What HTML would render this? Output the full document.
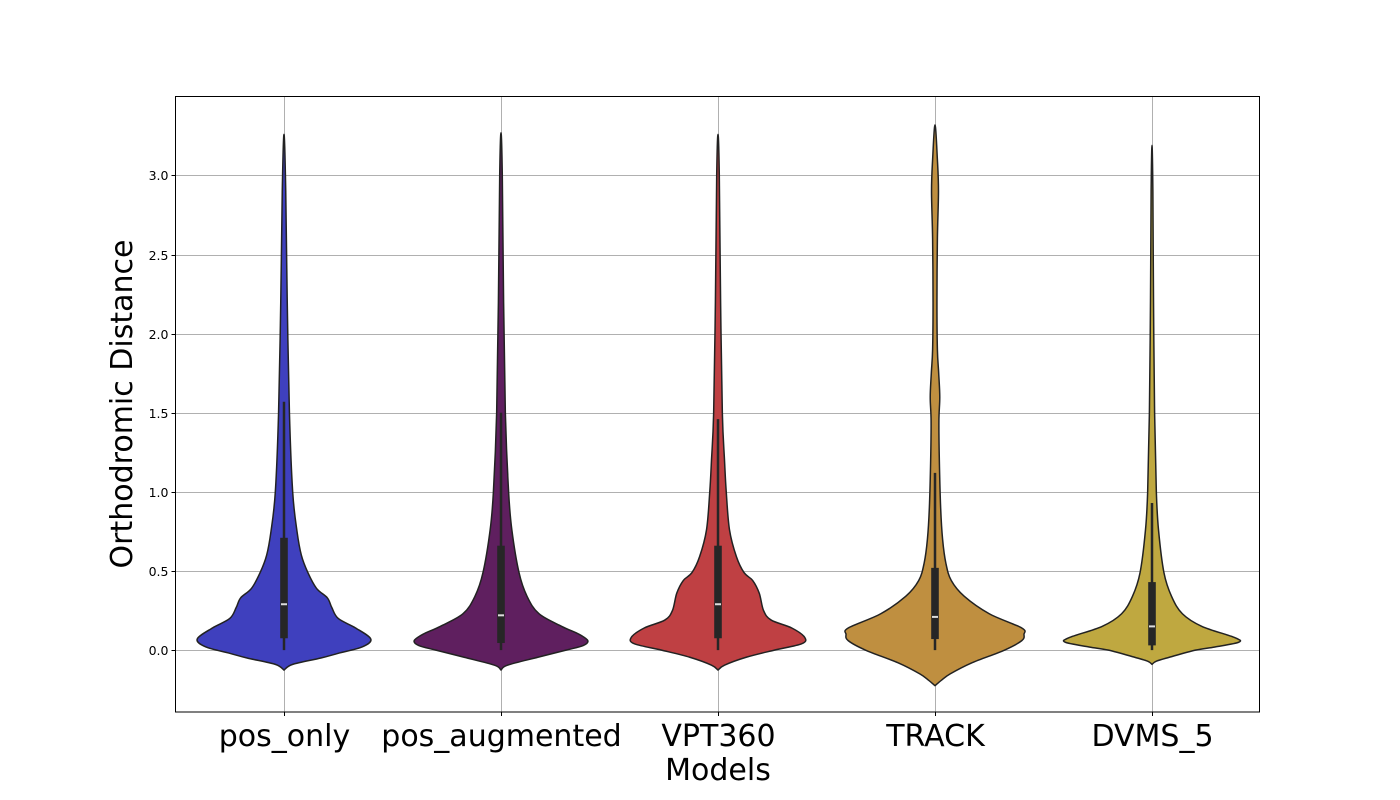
<!DOCTYPE html>
<html><head><meta charset="utf-8"><style>
html,body{margin:0;padding:0;background:#fff;}
svg{display:block;font-family:"DejaVu Sans","Liberation Sans",sans-serif;}
</style></head><body>
<svg id="chart" width="1400" height="800" viewBox="0 0 1400 800">
<rect x="0" y="0" width="1400" height="800" fill="#fff"/>
<g id="grid"></g>
<g id="violins"></g>
<rect x="175.5" y="96.5" width="1084" height="615.5" fill="none" stroke="#000" stroke-width="1"/>
<g id="yticks"></g>
<g id="xticks"></g>
<text x="132" y="404" font-size="30" text-anchor="middle" transform="rotate(-90 132 404)">Orthodromic Distance</text>
<text x="718" y="780" font-size="30" text-anchor="middle">Models</text>
</svg>
<script>
const categories = ["pos_only","pos_augmented","VPT360","TRACK","DVMS_5"];
const colors = ["#3f40be","#5f1f5f","#bf4043","#bf8f40","#bfa840"];
const yTicks = [0.0,0.5,1.0,1.5,2.0,2.5,3.0];
const yTickLabels = ["0.0","0.5","1.0","1.5","2.0","2.5","3.0"];
// violin profiles: values and half-widths (fraction of category spacing)
const profVals0 = [-0.126,-0.09,-0.05,-0.02,0.02,0.07,0.14,0.20,0.27,0.33,0.39,0.49,0.6,0.75,1.0,1.5,2.2,2.9,3.26];
const profW0    = [0,0.04,0.17,0.25,0.36,0.40,0.33,0.25,0.22,0.20,0.15,0.11,0.08,0.06,0.04,0.025,0.015,0.008,0];
const profVals1 = [-0.126,-0.095,-0.045,0.0,0.03,0.06,0.10,0.15,0.23,0.34,0.49,0.76,1.0,1.5,2.2,3.0,3.27];
const profW1    = [0,0.03,0.17,0.30,0.38,0.40,0.36,0.28,0.175,0.12,0.083,0.05,0.035,0.02,0.012,0.006,0];
const profVals2 = [-0.126,-0.095,-0.045,0.0,0.04,0.08,0.14,0.19,0.25,0.36,0.44,0.49,0.59,0.76,1.0,1.2,1.5,2.2,3.0,3.26];
const profW2    = [0,0.03,0.13,0.26,0.385,0.40,0.34,0.245,0.21,0.19,0.16,0.12,0.085,0.053,0.038,0.03,0.02,0.012,0.006,0];
const profVals3 = [-0.225,-0.19,-0.15,-0.08,0.0,0.06,0.10,0.14,0.23,0.34,0.44,0.55,0.7,0.9,1.2,1.45,1.6,1.75,1.9,2.2,2.6,2.9,3.1,3.32];
const profW3    = [0,0.03,0.07,0.17,0.32,0.40,0.41,0.40,0.25,0.135,0.075,0.05,0.035,0.026,0.02,0.018,0.022,0.017,0.011,0.009,0.011,0.016,0.011,0];
const profVals4 = [-0.09,-0.07,-0.045,0.0,0.02,0.05,0.08,0.15,0.23,0.34,0.49,0.76,1.0,1.5,2.2,2.9,3.19];
const profW4    = [0,0.02,0.08,0.2,0.29,0.40,0.38,0.23,0.14,0.09,0.055,0.03,0.02,0.012,0.007,0.004,0];
const whiskerLow  = [0,0,0,0,0];
const q1Vals      = [0.075,0.045,0.075,0.07,0.03];
const medianVals  = [0.29,0.22,0.29,0.21,0.15];
const q3Vals      = [0.71,0.66,0.66,0.52,0.43];
const whiskerHigh = [1.57,1.5,1.46,1.12,0.93];

const NS="http://www.w3.org/2000/svg";
const L=175.5,R=1259.5,T=96.5,B=712;
const yMin=-0.391,yMax=3.499;
const ys=v=>B-(v-yMin)/(yMax-yMin)*(B-T);
const step=217, x0=284;
const xs=i=>x0+i*step;
const ws=w=>w*step;
function mk(tag,attrs,parent){const e=document.createElementNS(NS,tag);for(const k in attrs)e.setAttribute(k,attrs[k]);parent.appendChild(e);return e;}
const grid=document.getElementById('grid'),yt=document.getElementById('yticks'),xt=document.getElementById('xticks'),vg=document.getElementById('violins');
yTicks.forEach((v,i)=>{
  const y=Math.round(ys(v))+0.5;
  const g=mk('line',{x1:L,x2:R,y1:y,y2:y,stroke:'#b0b0b0','stroke-width':1},grid);
  
  
  const t=mk('line',{x1:L-4,x2:L,y1:y,y2:y,stroke:'#000','stroke-width':1},yt);
  
  
  const tx=mk('text',{x:L-7,y:y+4.5,'font-size':12.5,'text-anchor':'end'},yt);
  tx.textContent=yTickLabels[i];
  
  
});
categories.forEach((c,i)=>{
  const x=Math.round(xs(i))+0.5;
  const g=mk('line',{x1:x,x2:x,y1:T,y2:B,stroke:'#b0b0b0','stroke-width':1},grid);
  
  
  const t=mk('line',{x1:x,x2:x,y1:B,y2:B+4,stroke:'#000','stroke-width':1},xt);
  
  
  const tx=mk('text',{x:x,y:746,'font-size':30,'text-anchor':'middle'},xt);
  tx.textContent=c;
  
  
});
const profs=[[profVals0,profW0],[profVals1,profW1],[profVals2,profW2],[profVals3,profW3],[profVals4,profW4]];
function smooth(pts){
  let d='M'+pts[0][0].toFixed(2)+','+pts[0][1].toFixed(2);
  for(let i=0;i<pts.length-1;i++){
    const p0=pts[Math.max(0,i-1)],p1=pts[i],p2=pts[i+1],p3=pts[Math.min(pts.length-1,i+2)];
    const c1=[p1[0]+(p2[0]-p0[0])/6,p1[1]+(p2[1]-p0[1])/6];
    const c2=[p2[0]-(p3[0]-p1[0])/6,p2[1]-(p3[1]-p1[1])/6];
    d+='C'+c1[0].toFixed(2)+','+c1[1].toFixed(2)+' '+c2[0].toFixed(2)+','+c2[1].toFixed(2)+' '+p2[0].toFixed(2)+','+p2[1].toFixed(2);
  }
  return d;
}
profs.forEach((p,i)=>{
  const cx=xs(i),vals=p[0],w=p[1];
  const right=vals.map((v,k)=>[cx+ws(w[k]),ys(v)]);
  const left=vals.map((v,k)=>[cx-ws(w[k]),ys(v)]).reverse();
  const pts=right.concat(left.slice(1));
  const path=mk('path',{d:smooth(pts)+'Z',fill:colors[i],stroke:'#222','stroke-width':1.5,'stroke-linejoin':'round'},vg);
  
  
  const wl=mk('line',{x1:cx,x2:cx,y1:ys(whiskerLow[i]),y2:ys(whiskerHigh[i]),stroke:'#262626','stroke-width':2.5},vg);
  
  
  const bx=mk('rect',{x:cx-3.8,y:ys(q3Vals[i]),width:7.6,height:ys(q1Vals[i])-ys(q3Vals[i]),fill:'#262626'},vg);
  
  
  const md=mk('line',{x1:cx-3,x2:cx+3,y1:ys(medianVals[i]),y2:ys(medianVals[i]),stroke:'#ddd','stroke-width':2},vg);
  
  
});
</script>
</body></html>
